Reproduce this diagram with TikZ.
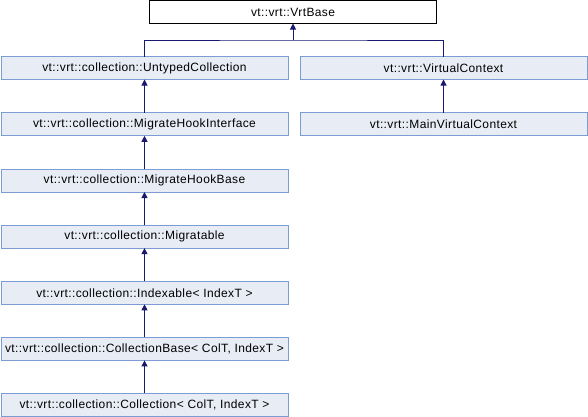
\documentclass[tikz,border=0pt]{standalone}
\usepackage{fontspec}
\setmainfont{Liberation Sans}[LetterSpace=3.2]
\usetikzlibrary{arrows.meta}
\definecolor{boxfill}{HTML}{E8ECF4}
\definecolor{boxdraw}{HTML}{7C9CD4}
\definecolor{edge}{HTML}{191970}
\tikzset{
  cls/.style={draw=boxdraw, fill=boxfill, line width=1pt, minimum width=287pt, minimum height=23pt, inner sep=0pt, outer sep=0pt, font=\fontsize{12}{14}\selectfont},
  root/.style={cls, draw=black, fill=white},
  inh/.style={draw=edge, line width=1pt, -{Triangle[length=6pt,width=6pt]}}
}
\begin{document}
\begin{tikzpicture}[x=1pt,y=-1pt]
\useasboundingbox (0,0) rectangle (588,416);
\node[root] (vrtbase) at (293,12) {vt::vrt::VrtBase};
\node[cls] (untyped) at (144.5,68) {vt::vrt::collection::UntypedCollection};
\node[cls] (vctx) at (443.5,68) {vt::vrt::VirtualContext};
\node[cls] (mhi) at (144.5,124.3) {vt::vrt::collection::MigrateHookInterface};
\node[cls] (mvctx) at (443.5,124.3) {vt::vrt::MainVirtualContext};
\node[cls] (mhb) at (144.5,180.5) {vt::vrt::collection::MigrateHookBase};
\node[cls] (migr) at (144.5,236.6) {vt::vrt::collection::Migratable};
\node[cls] (idx) at (144.5,292.8) {vt::vrt::collection::Indexable< IndexT >};
\node[cls] (cbase) at (144.5,348.9) {vt::vrt::collection::CollectionBase< ColT, IndexT >};
\node[cls] (coll) at (144.5,404.5) {vt::vrt::collection::Collection< ColT, IndexT >};
\coordinate (junc) at (293,40);
\draw[draw=edge, line width=1pt] (untyped.north) |- (junc) -| (vctx.north);
\draw[inh] (junc) -- (vrtbase.south);
\draw[inh] (mhi) -- (untyped);
\draw[inh] (mvctx) -- (vctx);
\draw[inh] (mhb) -- (mhi);
\draw[inh] (migr) -- (mhb);
\draw[inh] (idx) -- (migr);
\draw[inh] (cbase) -- (idx);
\draw[inh] (coll) -- (cbase);
\end{tikzpicture}
\end{document}
